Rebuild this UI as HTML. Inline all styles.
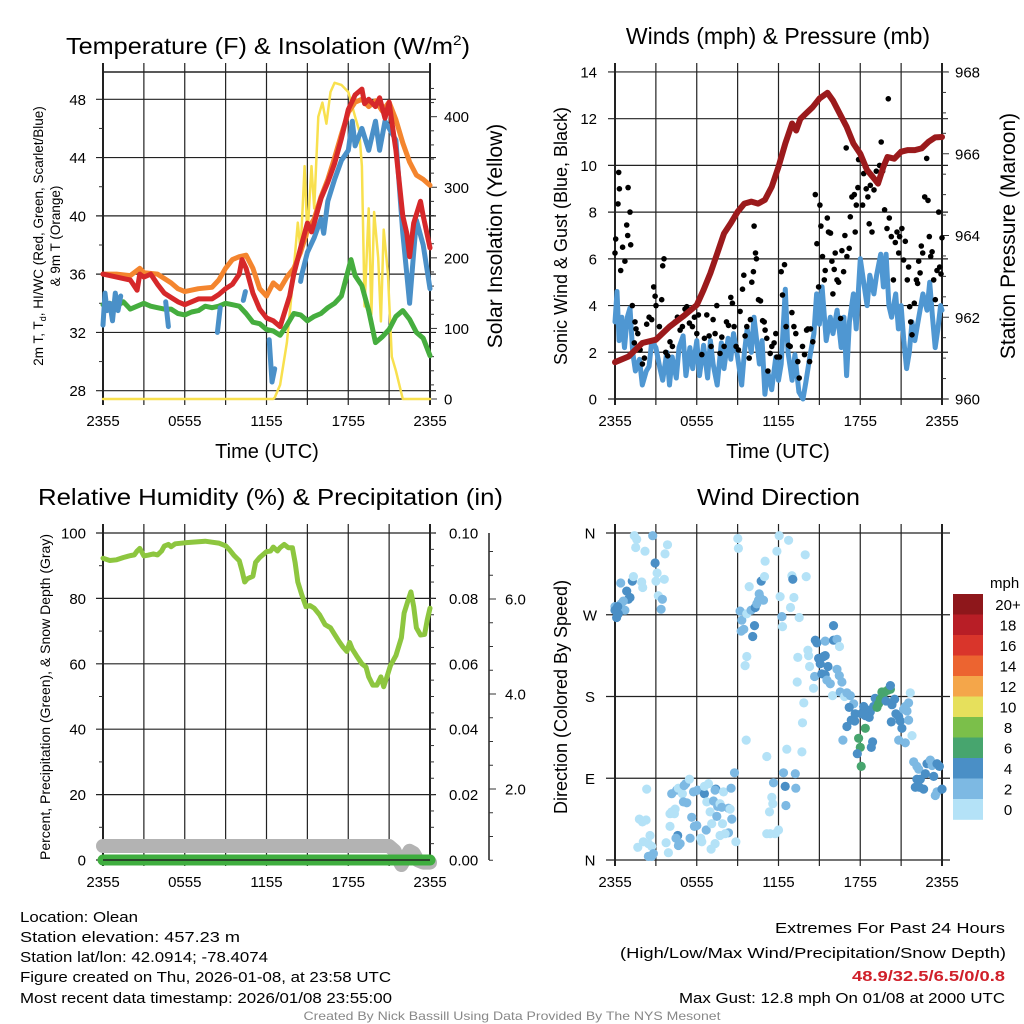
<!DOCTYPE html>
<html><head><meta charset="utf-8">
<style>
html,body{margin:0;padding:0;background:#fff;width:1024px;height:1024px;overflow:hidden}
svg{display:block;font-family:"Liberation Sans",Arial,sans-serif}
</style></head>
<body>
<svg id="chart" width="1024" height="1024" viewBox="0 0 1024 1024" xmlns="http://www.w3.org/2000/svg">
<rect x="0" y="0" width="1024" height="1024" fill="#fff"/>
<text x="66" y="54" font-size="23" textLength="404" lengthAdjust="spacingAndGlyphs">Temperature (F) &amp; Insolation (W/m<tspan font-size="14" dy="-9">2</tspan><tspan dy="9">)</tspan></text>
<text x="778" y="44" font-size="23" text-anchor="middle">Winds (mph) &amp; Pressure (mb)</text>
<text x="38" y="505" font-size="23" textLength="465" lengthAdjust="spacingAndGlyphs">Relative Humidity (%) &amp; Precipitation (in)</text>
<text x="697" y="505" font-size="23" textLength="163" lengthAdjust="spacingAndGlyphs">Wind Direction</text>

<text transform="translate(43,236) rotate(-90)" font-size="13.5" text-anchor="middle">2m T, T<tspan font-size="9" dy="3">d</tspan><tspan dy="-3">, HI/WC (Red, Green, Scarlet/Blue)</tspan></text>
<text transform="translate(60,236) rotate(-90)" font-size="13.5" text-anchor="middle">&amp; 9m T (Orange)</text>
<text transform="translate(502,236) rotate(-90)" font-size="21" text-anchor="middle">Solar Insolation (Yellow)</text>
<text x="267" y="458" font-size="20" text-anchor="middle">Time (UTC)</text>
<text transform="translate(567,236) rotate(-90)" font-size="18" text-anchor="middle">Sonic Wind &amp; Gust (Blue, Black)</text>
<text transform="translate(1015,236) rotate(-90)" font-size="21" text-anchor="middle">Station Pressure (Maroon)</text>
<text x="778" y="458" font-size="20" text-anchor="middle">Time (UTC)</text>
<text transform="translate(50,697) rotate(-90)" font-size="14" text-anchor="middle">Percent, Precipitation (Green), &amp; Snow Depth (Gray)</text>
<text transform="translate(567,697) rotate(-90)" font-size="18" text-anchor="middle">Direction (Colored By Speed)</text>

<g font-size="15">
<text x="20" y="922" textLength="118" lengthAdjust="spacingAndGlyphs">Location: Olean</text>
<text x="20" y="942" textLength="220" lengthAdjust="spacingAndGlyphs">Station elevation: 457.23 m</text>
<text x="20" y="962" textLength="248" lengthAdjust="spacingAndGlyphs">Station lat/lon: 42.0914; -78.4074</text>
<text x="20" y="982" textLength="371" lengthAdjust="spacingAndGlyphs">Figure created on Thu, 2026-01-08, at 23:58 UTC</text>
<text x="20" y="1003" textLength="372" lengthAdjust="spacingAndGlyphs">Most recent data timestamp: 2026/01/08 23:55:00</text>
</g>
<g font-size="15" text-anchor="end">
<text x="1005" y="933" textLength="230" lengthAdjust="spacingAndGlyphs">Extremes For Past 24 Hours</text>
<text x="1006" y="958" textLength="386" lengthAdjust="spacingAndGlyphs">(High/Low/Max Wind/Precipitation/Snow Depth)</text>
<text x="1005" y="981" fill="#d0202a" font-weight="bold" textLength="153" lengthAdjust="spacingAndGlyphs">48.9/32.5/6.5/0/0.8</text>
<text x="1005" y="1003" textLength="326" lengthAdjust="spacingAndGlyphs">Max Gust: 12.8 mph On 01/08 at 2000 UTC</text>
</g>
<text x="512" y="1020" font-size="12" fill="#888" text-anchor="middle" textLength="417" lengthAdjust="spacingAndGlyphs">Created By Nick Bassill Using Data Provided By The NYS Mesonet</text>
</svg>
<script>
// ---------- data ----------
const xTickLabels = ["2355","0555","1155","1755","2355"];
// temperature panel
const redT = [0,1,2,2.5,2.7,3,3.5,4,4.5,5,5.5,6,6.5,7,8,8.5,9,9.5,10,10.2,10.5,11,11.5,12,12.5,13,13.3,13.7,14,14.5,15,15.3,15.5,16,16.5,17,17.5,18,18.5,19,19.2,19.5,20,20.3,20.7,21,21.3,21.5,22,22.3,22.5,22.8,23.3,23.5,24];
const redV = [36,35.8,35.6,34.9,36,35.8,36,35.3,34.7,34.4,34.1,33.9,34.1,34.3,34.3,34.6,35,35.3,36,37,36.4,34.7,33.6,33,32.8,32.4,33.3,34.5,36,37.8,39.5,38.9,39.5,41.2,42.3,43.6,45.3,47.3,48.3,48.7,47.7,48,47.5,48.1,46.7,47.8,45.8,44.5,40,38.8,37.2,39.5,41,40,37.8];
const orangeT = [0,1,2,2.7,3,4,4.5,5,5.5,6,7,8,8.5,9,9.5,10,10.5,11,11.5,12,12.5,13,13.5,14,14.5,15,15.5,16,16.5,17,17.5,18,18.5,19,19.5,20,20.5,21,21.5,22,22.5,23,23.5,24];
const orangeV = [36,36,35.9,36.4,36.1,36,35.7,35.4,35,34.8,35,35.1,35.6,36.4,37,37.2,37.3,36.4,35,34.5,35.4,35,35.8,36.4,37.5,39,39.8,41.3,42.5,44,45.6,47.1,47.8,48,47.5,47.9,47.2,47.8,46.6,45,43.7,42.8,42.5,42.1];
const greenT = [0,0.5,1,1.5,2,2.5,3,3.5,4,4.5,5,5.5,6,6.5,7,7.5,8,8.5,9,9.5,10,10.5,11,11.5,12,12.5,13,13.5,14,14.5,15,15.5,16,16.5,17,17.5,18,18.2,18.5,19,19.5,20,20.5,21,21.5,22,22.5,23,23.5,24];
const greenV = [33.9,34,33.8,34.1,33.6,33.8,34,33.8,33.7,33.6,33.6,33.3,33.2,33.4,33.5,33.8,33.7,33.8,34,33.9,33.8,33.3,32.7,32.6,32.2,32.1,31.8,32.5,33.3,33.2,32.8,33.1,33.3,33.7,34,34.5,36.3,37,35.9,35.2,33.5,31.3,31.7,32.2,33.1,33.5,32.9,32,31.6,30.4];
const blueT = [0,0.15,0.3,0.5,0.7,0.9,1.1,1.3,null,4.6,4.8,null,8.4,8.6,null,10.3,10.45,null,12.2,12.4,12.6,null,14.5,14.6,15,15.5,16,16.2,16.5,17,17.5,18,18.3,18.5,19,19.5,20,20.3,20.7,21.5,22,22.3,22.5,22.8,23,23.5,24];
const blueV = [32.5,34.7,33.5,34,32.8,34.7,33.5,34.5,null,34.1,32.4,null,32,33.7,null,34.2,34.8,null,31.5,28.6,29.5,null,35.5,36,37.5,38.5,39.8,38.8,41,42.5,43.8,44.5,46.5,44.8,46,44.5,46.5,44.5,46.5,45.2,38.8,36,34,37.5,39.7,38,35];
const solarT = [0,12.5,12.6,13,13.5,13.8,14.3,14.5,14.8,15,15.3,15.5,15.8,16.1,16.4,16.7,17,17.5,18,18.5,18.8,19,19.2,19.5,19.7,19.9,20.2,20.4,20.6,20.9,21.2,21.5,22,24];
const solarV = [0,0,2,20,80,140,250,210,330,230,330,270,400,420,390,435,448,445,435,400,380,330,131,270,120,265,200,110,240,180,60,40,0,0];
// wind panel
const windT = [0,0.15,0.3,0.5,0.7,0.9,1.1,1.3,1.5,1.8,2,2.3,2.5,2.7,3,3.3,3.5,3.8,4,4.2,4.5,4.7,5,5.2,5.5,5.7,6,6.2,6.5,6.8,7,7.2,7.5,7.8,8,8.3,8.5,8.7,9,9.3,9.5,9.7,10,10.2,10.4,10.6,10.8,11,11.2,11.5,11.8,12,12.2,12.5,12.7,13,13.2,13.5,13.8,14,14.3,14.6,14.8,15,15.2,15.5,15.8,16,16.3,16.6,16.8,17,17.2,17.5,17.7,17.9,18,18.2,18.5,18.7,19,19.2,19.5,19.7,19.9,20.1,20.3,20.6,20.8,21,21.2,21.4,21.6,21.8,22,22.3,22.6,22.9,23.1,23.3,23.5,23.7,23.9,24];
const windV = [3.3,4.6,2.5,3.5,2.2,3.5,3.9,2,1.2,1.7,0.6,1.2,1.4,2.5,2.2,1.3,0.8,2,0.6,1.8,0.9,2.2,2.7,1,2.2,1.3,2.5,1,2.3,0.9,2.5,1.5,0.6,2.4,1.3,2.6,1.7,2.8,1.8,0.6,2,3,2,3.5,2.5,1.5,2.5,0.2,1.2,0.4,1.8,0.8,1.5,4.7,2,0.8,1.9,0.3,0,0.7,1.8,2.8,4.5,3.2,4.8,2.5,3.5,2.8,3.8,2.2,3.5,1,3.3,4.5,3,5,6,5.2,4,5.3,4.5,5.3,6.2,4.8,6.2,4,3.5,4.5,3,4,2.5,1.3,2,3.3,2.5,3.5,4.5,3.8,5,3.5,2.2,3,4,3.8];
const pressT = [0,1,2,3,4,5,6,6.5,7,7.5,8,8.5,9,9.5,10,10.5,11,11.5,12,12.5,13,13.3,13.6,14,14.5,15,15.6,16,16.5,17,17.5,18,18.5,19,19.3,19.7,20,20.5,21,21.5,22,22.5,23,23.5,24];
const pressV = [960.9,961.04,961.37,961.45,961.77,962.02,962.3,962.67,963.08,963.56,964.05,964.3,964.58,964.78,964.83,964.78,964.87,965.19,965.68,966.25,966.74,966.57,966.85,966.98,967.14,967.35,967.49,967.3,966.98,966.66,966.25,966,965.6,965.4,965.27,965.68,965.92,965.88,966.05,966.09,966.09,966.13,966.29,966.4,966.41];
const gustT = [0,0.05,0.22,0.27,0.32,0.42,0.56,0.73,0.86,0.96,0.93,1.1,1.15,1.27,1.47,1.54,1.67,1.42,1.84,2.01,2.16,2.33,2.5,2.69,2.84,2.94,3.01,3.26,3.43,3.5,3.6,3.72,3.87,4.04,4.21,4.41,4.58,4.78,4.95,5.14,5.27,5.46,5.68,5.83,6,6.12,6.37,6.56,6.74,6.91,7.05,7.2,7.35,7.47,7.71,7.84,8.01,8.18,8.33,8.5,8.62,8.74,8.89,9.06,9.18,9.36,9.45,9.55,9.67,9.85,9.94,10.04,10.16,10.21,10.31,10.38,10.53,10.68,10.83,10.95,11.02,11.14,11.22,11.39,11.51,11.68,11.8,11.88,12.07,12.2,12.29,12.44,12.56,12.74,12.86,12.98,13.13,13.27,13.42,13.52,13.76,13.91,14.06,14.16,14.28,14.35,14.52,14.7,14.82,14.94,15.04,15.11,15.23,15.36,15.43,15.58,15.67,15.82,15.92,15.99,16.09,16.16,16.29,16.41,16.56,16.65,16.78,16.87,17.02,17.19,17.27,17.39,17.56,17.63,17.71,17.83,17.88,16.97,18.17,18.25,18.37,18.44,18.56,18.66,18.74,18.86,19.01,19.18,19.42,19.54,19.64,19.79,19.96,20.06,20.13,20.28,20.43,20.57,20.7,20.82,20.89,21.06,21.18,21.31,21.45,21.55,21.63,21.7,21.8,21.97,22.12,22.21,22.29,22.39,22.48,22.58,22.73,22.88,22.97,23.07,23.17,23.27,23.39,23.51,23.63,23.76,23.83,23.93,24];
const gustV = [6.25,6.85,8.35,9.7,9,5.5,6.5,5.9,7.45,9.05,7,8,6.6,4,3.3,3,2.8,2.4,2.1,1.5,1.75,3.2,3.5,3.4,4.8,4.4,4,3.1,4.25,5.7,6,2,1.85,2.45,2.25,3.3,3.5,2.95,3.1,3.85,3.95,3.25,3.1,3.5,2.8,3.6,1.9,2.6,3.6,2.7,2.25,3.4,2.8,4,1.95,2.65,2.25,3.3,3.15,4.35,4.1,3.1,2.25,2.1,3.75,4.7,5.3,2.7,3.1,1.75,3.4,5,5.45,7.4,6.25,6,4.25,4.2,3.35,3.3,2.95,2.6,1.2,1.95,2.25,2.4,2.8,1.8,1.8,5.45,4.45,5.75,3.1,2.3,2.25,3.7,3.1,2.8,1.6,0.9,2.25,1.9,2.95,3,1.6,3,2.45,8.75,6.65,4.8,8.3,7.4,6.1,5.1,5.5,7.75,7.15,7.1,5.9,4.5,5.55,6.25,5.1,5,3.45,6.35,5.45,7,6.1,6.45,7.8,8.65,8.75,7.15,8.3,9.05,10.25,10.75,8.3,9.65,9.95,9,8.65,7.5,9.15,7.15,8.95,9.75,10,11,9.75,8.1,7.3,12.85,7.75,6.95,5.1,6.7,7.15,6.25,6.95,7.3,5.95,6.75,5.1,5.65,3.95,3.3,2.75,4.1,5.1,4.95,5.9,5.4,6.55,6.25,8.65,10.3,8.5,6.95,6.1,6.3,5.1,4.25,5.5,8,5.65,5.35,6.9];
// RH panel
const rhT = [0,0.5,1,1.5,2,2.3,2.5,2.7,3,3.3,3.7,4,4.3,4.5,4.8,5,5.3,6,7,7.5,8,8.5,9,9.3,9.6,10,10.2,10.4,10.6,11,11.2,11.5,12,12.3,12.5,12.8,13,13.3,13.6,13.9,14.1,14.3,14.6,14.9,15.2,15.5,15.9,16.3,16.7,17,17.3,17.6,17.9,18.1,18.3,18.6,19,19.3,19.5,19.8,20.1,20.4,20.6,20.8,21.1,21.5,21.9,22.1,22.4,22.6,22.8,23,23.3,23.6,23.8,24];
const rhV = [92.3,91.6,91.8,92.5,93.1,93.3,94.5,95.3,93,93.2,93.6,93.3,94.5,96,96.5,95.8,96.7,97,97.3,97.5,97.2,96.9,96.1,94.8,93.2,91.5,88.5,85,86,86.8,91,92.5,94.3,94.5,95.7,94.5,95.5,96.5,95.5,95.5,91,85,81,77.5,77.8,77,75,72,71,69,67,65.2,63.8,66.5,64.5,62.5,60,59,56,53.5,53.5,56,53,55.5,59.5,62.5,68,75.5,79.5,82,77.5,71,68.8,69,73.5,77];
const precipT = [0,24];
const precipV = [0,0];
const snowT = [0,21,21.4,21.7,21.9,22.2,22.5,22.8,23.1,23.5,24];
const snowV = [0.8,0.8,0.7,0.5,0.4,0.55,0.7,0.65,0.5,0.45,0.45];
const rhTicks = [0,20,40,60,80,100];
const precipTicks = [0,0.02,0.04,0.06,0.08,0.1];
const snowTicks = [2,4,6];
// direction panel
const dirT = [1.42,1.59,1.52,2.2,2.77,2.94,3.09,3.01,3.67,3.85,3.62,3.18,3.48,3.38,0.42,0.86,0.98,1.1,1.27,1.35,1.96,2.03,0.61,0.44,0.73,0,0.2,0.12,0.24,0,
9.01,9.06,9.85,10.73,10.97,11.02,11.88,12.05,12.74,12.98,13.05,13.13,13.96,14.03,12.12,12.88,12.25,12.29,13.52,9.18,9.31,9.45,9.26,9.67,9.99,10.29,10.41,10.53,10.65,10.9,10.58,10.24,10.11,9.67,9.55,9.63,11.14,12.61,13.72,13.76,13.86,13.37,13.42,14.16,14.21,14.28,14.57,14.65,
14.7,14.82,15.43,16.04,16.04,16.29,16.48,14.94,15.43,15.31,15.06,15.63,15.18,15.43,15.55,15.8,16.29,16.46,16.65,15.97,16.53,16.85,17.02,17.27,17.51,17.19,17.02,17.34,17.59,17.63,16.73,18.25,18.37,18.66,18.56,18.74,19.1,18.98,19.23,19.35,19.47,19.59,19.79,20.03,20.21,19.72,19.89,20.21,20.33,20.52,20.62,20.82,20.94,20.28,21.06,21.18,21.55,21.67,21.55,21.31,21.43,21.8,20.82,21.31,18.37,17.88,18,18.07,17.78,18.91,18.81,18.07,18.25,
21.92,22.16,22.29,22.9,23.14,23.27,23.63,23.81,22.78,23.39,22.16,22.41,22.04,22.65,22.34,23.63,24,23.51,
2.33,1.79,2.01,2.28,1.67,2.08,2.45,2.57,2.69,2.45,2.69,2.82,4.16,4.53,4.65,4.95,5.02,5.27,5.07,5.19,5.46,5.76,6.07,6.56,6.56,6.86,7.4,7.35,7.96,8.52,8.77,4.16,4.36,4.41,4.04,4.04,4.6,4.48,4.78,5.51,5.63,5.83,6,6.29,6.37,6.69,6.74,6.98,7.23,7.54,7.71,7.84,8.33,8.45,7.1,7.47,7.89,8.33,8.08,7.71,7.35,7.05,8.87,8.57,3.75,3.92,4.65,11.63,12.49,13.27,13.23,12.37,12.54,11.51,11.58,11.34,12,11.76,11.39,11.14];
const dirDeg = [357,353,344,340,357,327,316,307,337,347,309,291,287,276,305,296,287,289,307,312,306,300,285,282,275,279,279,267,271,275,
354,343,301,307,312,329,340,357,352,313,309,289,336,312,290,278,268,257,267,274,264,254,252,271,275,278,282,286,289,286,293,258,246,224,214,132,114,122,119,151,173,196,223,231,225,213,189,202,
242,239,241,258,242,243,235,222,225,224,216,213,205,204,198,194,210,203,196,181,185,180,184,181,172,168,147,154,153,161,132,169,159,157,165,163,178,169,168,172,177,185,185,187,188,177,175,192,171,177,161,158,153,152,145,166,154,184,173,169,164,137,132,129,145,134,124,103,117,130,124,161,161,
108,103,100,106,110,104,106,103,95,92,89,89,80,78,80,75,78,71,
78,45,42,44,14,20,18,27,15,4,4,7,73,77,79,73,64,63,82,84,89,75,77,73,81,84,78,77,75,79,96,53,51,56,51,37,27,24,18,24,47,37,38,24,20,33,64,53,65,59,62,58,57,56,40,48,40,30,29,27,18,12,20,45,19,8,16,85,81,79,95,96,60,69,62,53,33,29,29,29];
const dirSpeed = [1,1,1,1,3,5,1,1,1,1,1,1,3,3,3,5,5,5,5,1,1,1,3,3,3,3,5,5,5,5,
1,1,1,5,1,1,1,1,1,1,5,1,1,1,1,1,3,1,1,3,3,3,3,1,3,5,3,3,3,3,3,5,5,1,1,1,1,1,1,1,1,1,1,1,1,1,1,3,
5,5,3,5,5,3,1,5,5,5,5,5,5,5,3,3,3,3,3,1,3,1,3,3,3,5,5,5,5,5,3,5,5,5,5,5,5,5,7,7,7,7,7,7,7,7,5,5,5,5,5,5,5,5,5,3,3,1,3,3,3,1,3,3,7,7,7,7,5,5,5,5,5,
3,3,3,5,3,3,5,5,5,5,5,5,5,5,5,3,5,3,
1,1,1,1,1,1,1,1,1,3,3,3,3,3,1,1,3,3,3,3,1,3,3,5,1,1,5,3,1,3,3,1,1,1,1,1,5,3,3,3,3,3,3,1,1,3,1,1,3,3,1,3,3,1,1,3,1,3,1,1,1,1,1,3,1,1,3,3,5,3,3,3,3,1,1,1,1,1,1,1];
const speedBins = ["20+","18","16","14","12","10","8","6","4","2","0"];
const speedColors = ["#8e171b","#b81e26","#d9352b","#ec6430","#f4a64a","#e6e05c","#7bbf4a","#47a56e","#4a8fc6","#7db9e3","#b4e2f7"];
const dirLabels = ["N","E","S","W","N"];

// ---------- helpers ----------
const NS = "http://www.w3.org/2000/svg";
const svg = document.getElementById("chart");
function mk(tag, attrs, parent) {
  const e = document.createElementNS(NS, tag);
  for (const k in attrs) e.setAttribute(k, attrs[k]);
  (parent || svg).appendChild(e);
  return e;
}
function makeX(x0, x1) { return t => x0 + t * (x1 - x0) / 24; }
function linPath(ts, vs, xf, yf) {
  let d = "", pen = false;
  for (let i = 0; i < ts.length; i++) {
    if (ts[i] === null || vs[i] === null) { pen = false; continue; }
    d += (pen ? "L" : "M") + xf(ts[i]).toFixed(1) + "," + yf(vs[i]).toFixed(1);
    pen = true;
  }
  return d;
}

function drawTimeGrid(g, x0, x1, yTop, yBot, xf) {
  for (let h = 0; h <= 24; h += 3) {
    const ln = mk("line", {x1: xf(h), x2: xf(h), y1: yTop - 9, y2: yBot + 6, stroke: "#222", "stroke-width": (h === 0 || h === 24) ? 2 : 1.2}, g);
    
    
  }
  for (let i = 0; i < xTickLabels.length; i++) {
    const tx = mk("text", {x: xf(i * 6), y: yBot + 27, "font-size": 15, "text-anchor": "middle"}, g);
    tx.textContent = xTickLabels[i];
    
    
  }
}
function hLine(g, xa, xb, y, w) {
  const ln = mk("line", {x1: xa, x2: xb, y1: y, y2: y, stroke: "#222", "stroke-width": w || 1.2}, g);
  
  
}
function yLabel(g, x, y, s, anchor) {
  const tx = mk("text", {x: x, y: y + 5.5, "font-size": 15, "text-anchor": anchor}, g);
  tx.textContent = s;
  
  
}
function tick(g, xa, xb, y) {
  const ln = mk("line", {x1: xa, x2: xb, y1: y, y2: y, stroke: "#333", "stroke-width": 1}, g);
  
  
}
function series(g, d, color, w, name) {
  const p = mk("path", {d: d, fill: "none", stroke: color, "stroke-width": w, "stroke-linejoin": "round", "stroke-linecap": "round"}, g);
  
  
  return p;
}

// ---------- panel 1: temperature ----------
(function () {
  const g = mk("g", {});
  
  
  const X = makeX(103, 430), yT = v => 99.3 + (48 - v) * 14.57, yS = v => 399 - v * 0.7058;
  drawTimeGrid(g, 103, 430, 72, 399, X);
  hLine(g, 103, 430, 72, 1.5); hLine(g, 103, 430, 399, 1.5);
  for (let v = 28; v <= 48; v += 4) { hLine(g, 96, 436, yT(v)); yLabel(g, 86, yT(v), String(v), "end"); }
  for (let v = 30; v <= 48; v += 4) tick(g, 99, 103, yT(v));
  for (let v = 0; v <= 440; v += 20) tick(g, 430, v % 100 === 0 ? 437 : 434, yS(v));
  for (let v = 0; v <= 400; v += 100) yLabel(g, 444, yS(v), String(v), "start");
  series(g, linPath(solarT, solarV, X, yS), "#f8e04e", 2.5, "solar-insolation-line");
  series(g, linPath(orangeT, orangeV, X, yT), "#f4852e", 5, "9m-temperature-line");
  series(g, linPath(greenT, greenV, X, yT), "#45ad3e", 5, "dewpoint-line");
  series(g, linPath(blueT, blueV, X, yT), "#4a90c8", 5, "windchill-line");
  series(g, linPath(redT, redV, X, yT), "#d6282a", 5, "2m-temperature-line");
})();

// ---------- panel 2: wind & pressure ----------
(function () {
  const g = mk("g", {});
  
  
  const X = makeX(615, 942), yW = v => 399 - v * 23.36, yP = v => 399 - (v - 960) * 40.875;
  drawTimeGrid(g, 615, 942, 72, 399, X);
  hLine(g, 615, 942, 399, 1.5);
  for (let v = 0; v <= 14; v += 2) { hLine(g, 608, 948, yW(v)); yLabel(g, 597, yW(v), String(v), "end"); }
  for (let v = 960; v <= 968; v += 0.5) tick(g, 942, v % 2 === 0 ? 949 : 946, yP(v));
  for (let v = 960; v <= 968; v += 2) yLabel(g, 955, yP(v), String(v), "start");
  series(g, linPath(windT, windV, X, yW), "#4f97d2", 5, "sonic-wind-line");
  for (let i = 0; i < gustT.length; i++) {
    const c = mk("circle", {cx: X(gustT[i]).toFixed(1), cy: yW(gustV[i]).toFixed(1), r: 2.8, fill: "#000"}, g);
    
    
  }
  series(g, linPath(pressT, pressV, X, yP), "#9b1a1c", 6, "station-pressure-line");
})();

// ---------- panel 3: RH & precip ----------
(function () {
  const g = mk("g", {});
  
  
  const X = makeX(103, 430), yR = v => 860 - v * 3.27, yPr = v => 860 - v * 3270, ySn = v => 884 - v * 47.5;
  drawTimeGrid(g, 103, 430, 533, 860, X);
  for (let i = 0; i < rhTicks.length; i++) { hLine(g, 96, 436, yR(rhTicks[i])); yLabel(g, 86, yR(rhTicks[i]), String(rhTicks[i]), "end"); }
  for (let v = 10; v <= 90; v += 20) tick(g, 99, 103, yR(v));
  for (let v = 0; v <= 0.1001; v += 0.005) tick(g, 430, 434, yPr(v));
  for (let i = 0; i < precipTicks.length; i++) yLabel(g, 449, yPr(precipTicks[i]), precipTicks[i].toFixed(2), "start");
  const ax = mk("line", {x1: 489, x2: 489, y1: 533, y2: 860, stroke: "#222", "stroke-width": 1.5}, g);
  
  
  for (let v = 0.5; v <= 7.5; v += 0.5) if (ySn(v) >= 533) tick(g, 489, 493, ySn(v));
  for (let i = 0; i < snowTicks.length; i++) { tick(g, 489, 496, ySn(snowTicks[i])); yLabel(g, 505, ySn(snowTicks[i]), snowTicks[i].toFixed(1), "start"); }
  series(g, linPath(snowT, snowV, X, ySn), "#b3b3b3", 14, "snow-depth-line");
  series(g, linPath(precipT, precipV, X, yPr), "#3fae3f", 11, "precipitation-line");
  hLine(g, 103, 430, 860, 1.5);
  series(g, linPath(rhT, rhV, X, yR), "#8dc63f", 5, "relative-humidity-line");
})();

// ---------- panel 4: wind direction ----------
(function () {
  const g = mk("g", {});
  
  
  const X = makeX(615, 942), yD = d => 860 - d * 327 / 360;
  drawTimeGrid(g, 615, 942, 533, 860, X);
  for (let i = 0; i < dirLabels.length; i++) { hLine(g, 606, 950, yD(i * 90)); yLabel(g, 590, yD(i * 90), dirLabels[i], "middle"); }
  const binOf = s => Math.max(0, Math.min(10, 10 - Math.floor(s / 2)));
  for (let i = 0; i < dirT.length; i++) {
    const c = mk("circle", {cx: X(dirT[i]).toFixed(1), cy: yD(dirDeg[i]).toFixed(1), r: 4.6, fill: speedColors[binOf(dirSpeed[i])]}, g);
    
    
  }
  const lg = mk("g", {}, g);
  
  
  const lt = mk("text", {x: 990, y: 588, "font-size": 15}, lg);
  lt.textContent = "mph";
  
  
  const top = 594, h = 20.5;
  for (let i = 0; i < speedBins.length; i++) {
    const r = mk("rect", {x: 953, y: top + i * h, width: 30, height: h + 0.3, fill: speedColors[i]}, lg);
    
    
    const t = mk("text", {x: 1008, y: top + i * h + h / 2 + 5.5, "font-size": 15, "text-anchor": "middle"}, lg);
    t.textContent = speedBins[i];
    
    
  }
})();
</script>
</body></html>
